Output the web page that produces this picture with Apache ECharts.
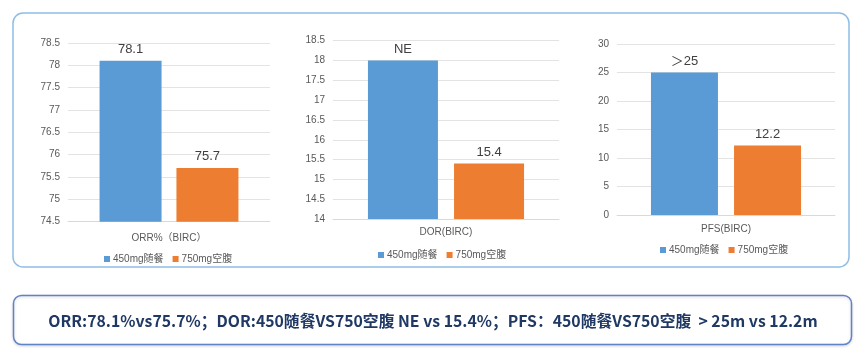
<!DOCTYPE html>
<html><head><meta charset="utf-8">
<script src="https://cdn.jsdelivr.net/npm/echarts@6/dist/echarts.min.js"></script>
<style>html,body{margin:0;padding:0;background:#fff}#c{width:863px;height:357px}</style>
</head><body><div id="c"></div>
<script>
const seriesNames = ['450mg随餐', '750mg空腹'];
const categories = ['ORR%（BIRC）', 'DOR(BIRC)', 'PFS(BIRC)'];
const values450 = [78.1, 18, 25];
const values750 = [75.7, 15.4, 12.2];
const labels450 = ['78.1', 'NE', '＞25'];
const labels750 = ['75.7', '15.4', '12.2'];
const yMin = [74.5, 14, 0];
const yMax = [78.5, 18.5, 30];
const yInterval = [0.5, 0.5, 5];
const summaryText = 'ORR:78.1%vs75.7%；DOR:450随餐VS750空腹 NE vs 15.4%；PFS：450随餐VS750空腹  > 25m vs 12.2m';

const FONT = '"Liberation Sans", "Noto Sans CJK SC", sans-serif';
const colors = ['#5b9bd5', '#ed7d31'];
const grids = [
  {left: 68, width: 202, top: 43, height: 178.7},
  {left: 333, width: 226, top: 40.7, height: 178.3},
  {left: 617, width: 218, top: 44, height: 171}
];
const barW = [62, 70, 67];
const barGaps = ['24%', '23%', '24%'];
const legendPos = [{x: 104, y: 254}, {x: 378, y: 250}, {x: 660, y: 245}];
const catMargin = [12, 8, 9];

const chart = echarts.init(document.getElementById('c'), null, {renderer: 'canvas'});
const option = {
  animation: false,
  textStyle: {fontFamily: FONT},
  grid: grids.map(g => Object.assign({containLabel: false}, g)),
  xAxis: categories.map((c, i) => ({
    type: 'category', gridIndex: i, data: [c],
    axisLine: {lineStyle: {color: '#d9d9d9'}},
    axisTick: {show: false},
    axisLabel: {color: '#595959', fontSize: 10, margin: catMargin[i], fontFamily: FONT}
  })),
  yAxis: categories.map((c, i) => ({
    type: 'value', gridIndex: i, min: yMin[i], max: yMax[i], interval: yInterval[i],
    axisLine: {show: false}, axisTick: {show: false},
    axisLabel: {color: '#595959', fontSize: 10, margin: 8, fontFamily: FONT},
    splitLine: {lineStyle: {color: '#e3e3e3'}}
  })),
  legend: categories.map((c, i) => ({
    data: seriesNames, left: legendPos[i].x, top: legendPos[i].y,
    itemWidth: 6, itemHeight: 6, itemGap: 9, icon: 'rect',
    textStyle: {color: '#595959', fontSize: 10, fontFamily: FONT, padding: [0, 0, 0, -2]},
    padding: 0
  })),
  series: []
};
categories.forEach((c, i) => {
  [values450, values750].forEach((vals, s) => {
    const lbl = s === 0 ? labels450 : labels750;
    option.series.push({
      type: 'bar', name: seriesNames[s], xAxisIndex: i, yAxisIndex: i,
      data: [vals[i]], barWidth: barW[i], barGap: barGaps[i],
      itemStyle: {color: colors[s]},
      label: {show: true, position: 'top', distance: 5, color: '#404040', fontSize: 13,
              fontFamily: FONT, formatter: () => lbl[i]}
    });
  });
});
option.graphic = [
  {type: 'rect', shape: {x: 13, y: 13, width: 836, height: 254, r: 10}, silent: true,
   style: {fill: 'none', stroke: '#8fbde6', lineWidth: 1.5}, z: -1},
  {type: 'rect', shape: {x: 13.5, y: 295.5, width: 838, height: 49, r: 8}, silent: true,
   style: {fill: '#fff', stroke: '#5f83c9', lineWidth: 1.5, shadowBlur: 3, shadowColor: 'rgba(0,0,0,0.15)', shadowOffsetY: 1}},
  {type: 'text', x: 433, y: 321, silent: true,
   style: {text: summaryText, fill: '#1f3864', font: 'bold 15.8px "Noto Sans CJK SC", sans-serif',
           textAlign: 'center', textVerticalAlign: 'middle'}}
];
chart.setOption(option);
</script></body></html>
